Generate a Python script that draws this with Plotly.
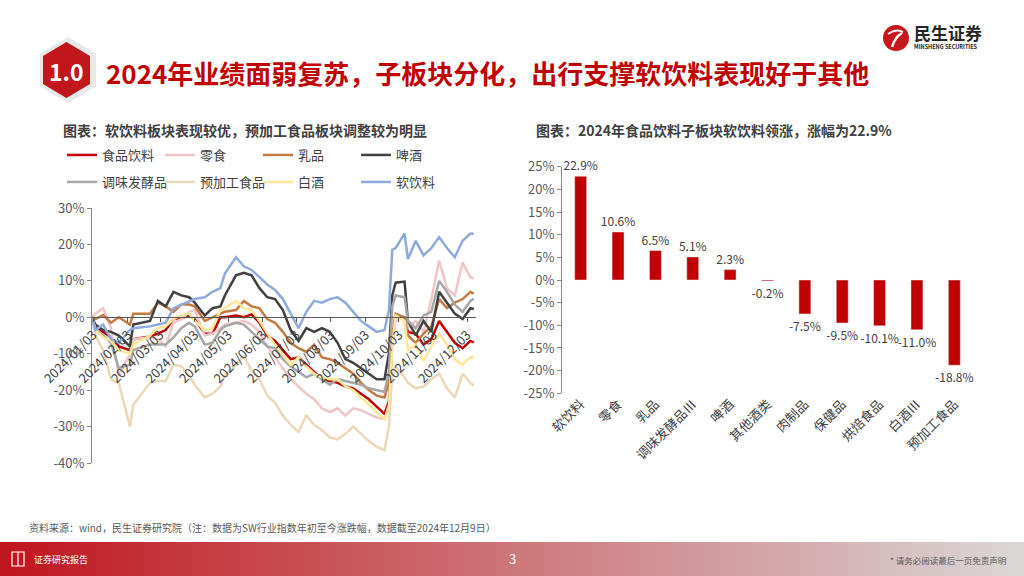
import plotly.graph_objects as go

W, H = 1024, 576
FONT = "Noto Sans CJK SC"

# ---- left chart: SW index YTD change (%), weekly readings ----
dates = ["2024-01-02", "2024-01-05", "2024-01-12", "2024-01-19", "2024-01-26", "2024-02-05", "2024-02-08",
         "2024-02-23", "2024-03-01", "2024-03-08", "2024-03-15", "2024-03-22", "2024-03-29", "2024-04-03",
         "2024-04-12", "2024-04-19", "2024-04-26", "2024-04-30", "2024-05-10", "2024-05-17", "2024-05-24",
         "2024-05-31", "2024-06-07", "2024-06-14", "2024-06-21", "2024-06-28", "2024-07-05", "2024-07-12",
         "2024-07-19", "2024-07-26", "2024-08-02", "2024-08-09", "2024-08-16", "2024-08-23", "2024-08-30",
         "2024-09-06", "2024-09-13", "2024-09-20", "2024-09-24", "2024-09-27", "2024-09-30", "2024-10-08",
         "2024-10-11", "2024-10-18", "2024-10-25", "2024-11-01", "2024-11-08", "2024-11-15", "2024-11-22",
         "2024-11-29", "2024-12-06", "2024-12-09"]

food_bev = [0, -2.5, -4, -5.5, -8, -9, -6, -5.3, -4.5, -3.5, -0.5, -0.3, 0.5, -0.5,
            -4.5, -4.5, 0, 0, 0.5, 0, 0.8, -1.5, -5, -6.5, -9, -11.5, -11, -13,
            -15, -17, -17.5, -18, -19, -19.5, -21, -22.5, -24.5, -26.5, -23, -7, 0.5, 0,
            -4, -4.5, -7.5, -6, -1, -4, -7, -8.5, -6.5, -6.9]
snacks = [0, 1, 2.5, -3, -16, -10, -6, -5.5, -6, -8, -1.5, -0.5, 1.5, 2,
          -5, -4.5, -3, -2, -1.5, -1, -2, -4, -8, -11, -14, -17, -19, -21,
          -22.5, -25, -26, -25, -27, -25, -25.5, -26.5, -27.5, -28, -24, -6, -1, 0,
          -3, -1, -4, 5, 15.5, 8, 6, 15, 11, 10.6]
dairy = [0, -0.5, 0.6, -1.5, 0, -2, 1, 1, 4, 3, 1.5, 3.5, 3.5, 3,
         -1, 0, 1, 1.5, 2, 4.5, 3, 2.5, -0.5, -1.5, -4, -7, -8.5, -9.5,
         -7.5, -11, -11.5, -12.5, -14, -15.5, -18, -20, -21.5, -22, -18, -5, 1, 0,
         -5, -7, -4.5, -2.5, 5, 2.5, 4, 5, 7, 6.5]
beer = [0, -2, -3.5, -4, -5, -8, -2, -1, 4.5, 3, 7, 6, 5.5, 4,
        0.5, 2.5, 3, 6, 11.5, 12.2, 11.5, 8, 5.5, 5, 2, -3.5, -6.5, -3,
        -4, -3, -4, -7, -11.5, -12.5, -14, -15.5, -17, -17, -10, 6, 9.5, 9.8,
        -1, -5, -1, -4, 7, 4, 1, -0.5, 2.5, 2.3]
seasoning = [0, -3, -5, -7, -14, -13, -9, -7.5, -7.5, -7.5, -5.5, -3, -1.5, -2.5,
             -7.5, -7, -3.5, -2.5, -1.5, -2, -4, -6, -8, -8.5, -11.5, -13.5, -15, -16.5,
             -15.5, -17, -18.5, -17, -17.5, -18, -18.5, -19.5, -20, -20.5, -15, 3, 6, 5.5,
             -1, -3, 0.5, 1.5, 10, 7, 3.5, 1.5, 4.5, 5.1]
prepared = [0, -5, -9, -17, -18, -30, -24, -18, -17.5, -17.5, -13, -13.5, -16, -18.5,
            -22, -21, -19, -16, -13, -10.8, -14.5, -17, -21.5, -23.5, -27, -29.5, -31.5, -27,
            -29.5, -31, -33, -33.5, -32, -30, -32, -34, -35.5, -36.5, -30, -15, -13.5, -16.5,
            -18, -19.5, -19, -17, -15.5, -19.5, -22, -15.5, -18, -18.8]
baijiu = [0, -3.5, -5.5, -6.5, -9, -10, -7.5, -5, -3, -2.5, -0.5, 0.5, 1, -1,
          -3.5, -3, 2, 2.5, 4.5, 2.5, 2, -1, -4.5, -7.5, -10.5, -13, -11, -13.5,
          -15.5, -16.5, -17, -17, -19, -20, -22, -24, -26, -28, -25, -8, 0.5, -1,
          -9, -7.5, -12, -8, -4.5, -7.5, -11.5, -13, -11, -11.0]
soft_drink = [0, -3.5, -2, -6, -7, -3.5, -3, -2.5, -2, -1.5, 2.5, 3.5, 4.5, 5,
              5.5, 7, 8, 12, 16.5, 14, 13, 11, 9, 7.5, 5, 1, -3, 1.5,
              4.5, 4, 5, 5.5, 4, 1.5, -1, -2.5, -4, -3.5, 2, 18.5, 19, 23,
              16, 21, 17, 19, 22, 19, 16.5, 21, 23, 22.9]

line_names = ["食品饮料", "零食", "乳品", "啤酒", "调味发酵品", "预加工食品", "白酒", "软饮料"]
line_values = [food_bev, snacks, dairy, beer, seasoning, prepared, baijiu, soft_drink]
line_colors = ["#C00000", "#EFC6C6", "#C47A45", "#404040", "#A6A6A6", "#EAD8B8", "#FFE699", "#8FAADC"]

x_tick_dates = ["2024-%02d-03" % m for m in range(1, 13)]
left_y_ticks = [-40, -30, -20, -10, 0, 10, 20, 30]
left_y_text = ["-40%", "-30%", "-20%", "-10%", "0%", "10%", "20%", "30%"]

# ---- right chart: YTD change by sub-sector (%) ----
bar_cats = ["软饮料", "零食", "乳品", "调味发酵品Ⅲ", "啤酒", "其他酒类", "肉制品", "保健品", "烘焙食品", "白酒Ⅲ", "预加工食品"]
bar_vals = [22.9, 10.6, 6.5, 5.1, 2.3, -0.2, -7.5, -9.5, -10.1, -11.0, -18.8]
right_y_ticks = [-25, -20, -15, -10, -5, 0, 5, 10, 15, 20, 25]
right_y_text = ["-25%", "-20%", "-15%", "-10%", "-5%", "0%", "5%", "10%", "15%", "20%", "25%"]


def X(px):
    return px / W


def Y(py):
    return 1 - py / H


fig = go.Figure()

for i, (name, vals, col) in enumerate(zip(line_names, line_values, line_colors)):
    fig.add_trace(go.Scatter(x=dates, y=vals, name=name, mode="lines",
                             line=dict(color=col, width=2.5),
                             legend="legend" if i < 4 else "legend2",
                             xaxis="x", yaxis="y"))

fig.add_trace(go.Bar(x=bar_cats, y=bar_vals, marker_color="#C00000", width=0.32,
                     text=["%.1f%%" % v for v in bar_vals], textposition="outside",
                     constraintext="none", cliponaxis=False,
                     textfont=dict(size=12, color="#404040", family=FONT),
                     showlegend=False, xaxis="x2", yaxis="y2"))

# left plot area
ly0, ly1 = Y(463), Y(208)
left_zero = ly0 + (0 - (-40)) / 70 * (ly1 - ly0)
# right plot area
ry0, ry1 = Y(393.3), Y(166.7)
right_zero = ry0 + (0 - (-25)) / 50 * (ry1 - ry0)

axis_gray = "#868686"
tick_font = dict(size=13, color="#595959", family=FONT)

fig.update_layout(
    width=W, height=H, margin=dict(l=0, r=0, t=0, b=0, autoexpand=False),
    paper_bgcolor="white", plot_bgcolor="white",
    font=dict(family=FONT, color="#404040"),
    xaxis=dict(domain=[X(92), X(476)], anchor="free", position=left_zero, type="date",
               range=["2024-01-02", "2024-12-11"], tickvals=x_tick_dates, tickformat="%Y/%m/%d",
               tickangle=-45, ticks="outside", ticklen=4, tickcolor="#595959",
               showline=True, linecolor="#595959", linewidth=1, showgrid=False, zeroline=False,
               tickfont=dict(size=13, color="#404040", family=FONT)),
    yaxis=dict(domain=[ly0, ly1], anchor="x", range=[-40, 30], tickvals=left_y_ticks,
               ticktext=left_y_text, showline=True, linecolor=axis_gray, ticks="outside",
               ticklen=4, tickcolor=axis_gray, showgrid=False, zeroline=False, tickfont=tick_font),
    xaxis2=dict(domain=[X(562), X(973)], anchor="y2", type="category", showline=False, ticks="",
                tickangle=-45, showgrid=False, zeroline=False,
                tickfont=dict(size=13, color="#404040", family=FONT)),
    yaxis2=dict(domain=[ry0, ry1], anchor="x2", range=[-25, 25], tickvals=right_y_ticks,
                ticktext=right_y_text, showline=True, linecolor=axis_gray, ticks="outside",
                ticklen=4, tickcolor=axis_gray, showgrid=False, zeroline=False, tickfont=tick_font),
    xaxis3=dict(overlaying="x2", anchor="free", position=right_zero, type="linear",
                range=[-0.5, len(bar_cats) - 0.5], tickvals=[i - 0.5 for i in range(len(bar_cats) + 1)],
                ticks="outside", ticklen=4, tickcolor=axis_gray, showline=True, linecolor=axis_gray,
                showticklabels=False, showgrid=False, zeroline=False),
    legend=dict(orientation="h", x=X(62), y=Y(155), xanchor="left", yanchor="middle",
                entrywidth=53, itemwidth=30, font=dict(size=13, color="#404040", family=FONT),
                bgcolor="rgba(0,0,0,0)"),
    legend2=dict(orientation="h", x=X(62), y=Y(182), xanchor="left", yanchor="middle",
                 entrywidth=53, itemwidth=30, font=dict(size=13, color="#404040", family=FONT),
                 bgcolor="rgba(0,0,0,0)"),
)

shapes = []
# footer gradient bar
n = 64
c0, c1 = (192, 22, 30), (218, 214, 214)
for k in range(n):
    t = k / (n - 1)
    col = "rgb(%d,%d,%d)" % tuple(round(a + (b - a) * t) for a, b in zip(c0, c1))
    shapes.append(dict(type="rect", xref="paper", yref="paper", x0=X(k * W / n), x1=X((k + 1) * W / n + 0.5),
                       y0=Y(576), y1=Y(542), fillcolor=col, line=dict(width=0), layer="below"))


def hexagon(cx, cy, w, h):
    pts = [(cx, cy - h / 2), (cx + w / 2, cy - h / 4), (cx + w / 2, cy + h / 4),
           (cx, cy + h / 2), (cx - w / 2, cy + h / 4), (cx - w / 2, cy - h / 4)]
    return "M " + " L ".join("%.4f,%.4f" % (X(a), Y(b)) for a, b in pts) + " Z"


shapes.append(dict(type="path", xref="paper", yref="paper", path=hexagon(68, 70, 56, 66),
                   fillcolor="#E9E9E9", line=dict(width=0)))
shapes.append(dict(type="path", xref="paper", yref="paper", path=hexagon(66.5, 70, 47, 56),
                   fillcolor="#C0161C", line=dict(width=0)))
# logo circle
shapes.append(dict(type="circle", xref="paper", yref="paper", x0=X(883), x1=X(909), y0=Y(51), y1=Y(25),
                   fillcolor="#C8161D", line=dict(width=0)))
shapes.append(dict(type="path", xref="paper", yref="paper",
                   path="M %.4f,%.4f Q %.4f,%.4f %.4f,%.4f" % (X(888), Y(34), X(896), Y(28), X(903), Y(32)),
                   line=dict(color="white", width=2)))
shapes.append(dict(type="path", xref="paper", yref="paper",
                   path="M %.4f,%.4f Q %.4f,%.4f %.4f,%.4f" % (X(892), Y(47), X(895), Y(37), X(902), Y(33)),
                   line=dict(color="white", width=2.5)))
# book icon in footer
shapes.append(dict(type="rect", xref="paper", yref="paper", x0=X(12), x1=X(24), y0=Y(566), y1=Y(552),
                   line=dict(color="white", width=1.2)))
shapes.append(dict(type="line", xref="paper", yref="paper", x0=X(18), x1=X(18), y0=Y(566), y1=Y(552),
                   line=dict(color="white", width=1.2)))
fig.update_layout(shapes=shapes)

ann = [
    dict(text="<b>1.0</b>", x=X(66.5), y=Y(71), font=dict(size=23, color="white", family=FONT)),
    dict(text="<b>2024年业绩面弱复苏，子板块分化，出行支撑软饮料表现好于其他</b>", x=X(104), y=Y(72),
         xanchor="left", font=dict(size=26, color="#C00000", family=FONT)),
    dict(text="<b>民生证券</b>", x=X(912), y=Y(32), xanchor="left", font=dict(size=17, color="#262626", family=FONT)),
    dict(text="<b>MINSHENG SECURITIES</b>", x=X(912), y=Y(47), xanchor="left",
         font=dict(size=5.5, color="#262626", family=FONT)),
    dict(text="<b>图表：软饮料板块表现较优，预加工食品板块调整较为明显</b>", x=X(61), y=Y(130), xanchor="left",
         font=dict(size=14, color="#404040", family=FONT)),
    dict(text="<b>图表：2024年食品饮料子板块软饮料领涨，涨幅为22.9%</b>", x=X(534), y=Y(130), xanchor="left",
         font=dict(size=14, color="#404040", family=FONT)),
    dict(text="资料来源：wind，民生证券研究院（注：数据为SW行业指数年初至今涨跌幅，数据截至2024年12月9日）",
         x=X(27), y=Y(527), xanchor="left", font=dict(size=10, color="#595959", family=FONT)),
    dict(text="证券研究报告", x=X(32), y=Y(559), xanchor="left", font=dict(size=9, color="white", family=FONT)),
    dict(text="3", x=X(512), y=Y(558), font=dict(size=13, color="white", family=FONT)),
    dict(text="* 请务必阅读最后一页免责声明", x=X(1008), y=Y(560), xanchor="right",
         font=dict(size=8.5, color="#595959", family=FONT)),
]
for a in ann:
    a.update(xref="paper", yref="paper", showarrow=False)
    a.setdefault("xanchor", "center")
    a.setdefault("yanchor", "middle")
fig.update_layout(annotations=ann)

# the page's default body margin would shift the slide by 8px
fig.write_html("out.html", config={"displayModeBar": False},
               post_script="document.body.style.margin='0';")
